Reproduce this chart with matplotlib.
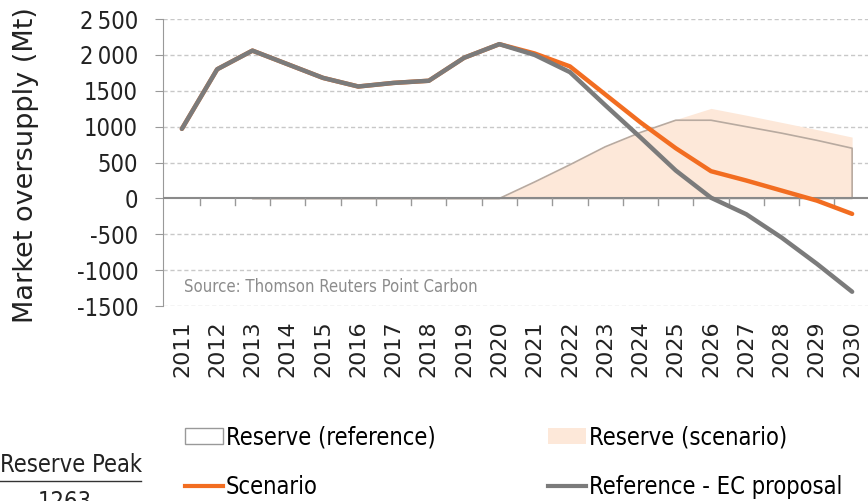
import numpy as np
import matplotlib.pyplot as plt
from matplotlib.patches import Patch
from matplotlib.lines import Line2D

years = list(range(2011, 2031))
reference = [970, 1800, 2060, 1870, 1680, 1560, 1610, 1640, 1960, 2150,
             2000, 1760, 1300, 850, 390, 10, -220, -545, -910, -1300]
scenario = [970, 1800, 2060, 1870, 1680, 1560, 1610, 1640, 1960, 2150,
            2020, 1840, 1450, 1060, 700, 380, 250, 110, -30, -215]
reserve_years = list(range(2013, 2031))
reserve_ref = [0, 0, 0, 0, 0, 0, 0, 0, 230, 470, 720, 920, 1090, 1090, 1000, 910, 810, 700]
reserve_scen = [0, 0, 0, 0, 0, 0, 0, 0, 230, 470, 720, 920, 1100, 1255, 1160, 1060, 960, 855]
yticks = [-1500, -1000, -500, 0, 500, 1000, 1500, 2000, 2500]

ORANGE = '#f26d21'
GREY = '#7b7b7b'
FILL = '#fde8d9'
TXT = '#222222'
COND = dict(family='DejaVu Sans', stretch='condensed')

fig = plt.figure(figsize=(8.68, 5.01), dpi=100)
ax = fig.add_axes([0.188, 0.389, 0.812, 0.573])

ax.fill_between(reserve_years, 0, reserve_scen, color=FILL, lw=0, zorder=1)
ax.fill_between(reserve_years, 0, reserve_ref, facecolor='none', edgecolor='#b8aaa0', lw=1.2, zorder=2)
ax.plot(years, scenario, color=ORANGE, lw=3.2, zorder=4, solid_capstyle='round')
ax.plot(years, reference, color=GREY, lw=3.2, zorder=5, solid_capstyle='round')

ax.set_xlim(2010.47, 2030.45)
ax.set_ylim(-1500, 2500)
ax.set_yticks(yticks)
ax.set_yticklabels([f'{v:,}'.replace(',', '\u2009') if abs(v) >= 2000 else str(v) for v in yticks],
                   fontsize=17, color=TXT, **COND)
ax.set_xticks(years)
ax.set_xticklabels([str(y) for y in years], rotation=90, fontsize=16, color=TXT)
ax.tick_params(axis='x', length=0, pad=10)
ax.tick_params(axis='y', length=6, color='#999999', pad=12)

for v in yticks:
    if v != 0:
        ax.axhline(v, color='#c8c8c8', lw=1, ls=(0, (3, 2)), zorder=0)
ax.axhline(0, color='#8a8a8a', lw=1.5, zorder=3)
for y in years[:-1]:
    ax.plot([y + 0.5, y + 0.5], [0, -90], color='#999999', lw=1, zorder=3)

for s in ['top', 'right', 'bottom']:
    ax.spines[s].set_visible(False)
ax.spines['left'].set_color('#999999')

ax.set_ylabel('Market oversupply (Mt)', fontsize=19.5, color=TXT)
ax.yaxis.set_label_coords(-0.176, 0.49)
ax.text(2011.05, -1300, 'Source: Thomson Reuters Point Carbon', fontsize=12, color='#8c8c8c', **COND)

handles = [Patch(facecolor='white', edgecolor='#999999', lw=1),
           Line2D([], [], color=ORANGE, lw=3),
           Patch(facecolor=FILL, edgecolor='none'),
           Line2D([], [], color=GREY, lw=3)]
labels = ['Reserve (reference)', 'Scenario', 'Reserve (scenario)', 'Reference - EC proposal']
fig.legend(handles, labels, ncol=2, frameon=False, loc='upper left',
           bbox_to_anchor=(0.2, 0.175), handlelength=1.6,
           handletextpad=0.12, columnspacing=4.75, labelspacing=1.1, borderpad=0,
           prop={'family': 'DejaVu Sans', 'stretch': 'condensed', 'size': 17})

fig.text(0.0, 0.058, 'Reserve Peak', fontsize=17, color=TXT, va='baseline', **COND)
fig.add_artist(Line2D([0, 0.162], [0.04, 0.04], color='#333333', lw=1))
fig.text(0.075, -0.016, '1263', fontsize=17, color=TXT, ha='center', va='baseline', **COND)

fig.savefig('out.png', dpi=100)
